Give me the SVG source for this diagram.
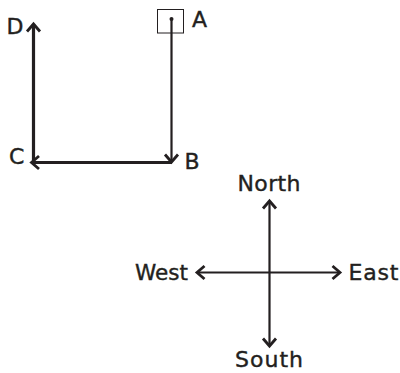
<svg xmlns="http://www.w3.org/2000/svg" width="400" height="373" viewBox="0 0 400 373">
<style>
text{font-family:"DejaVu Sans","Liberation Sans",Arial,sans-serif;font-size:22px;fill:#231f20;stroke:#231f20;stroke-width:0.4}
.thick{stroke:#231f20;stroke-width:3.2;fill:none}
.thin{stroke:#231f20;stroke-width:2.2;fill:none}
</style>
<defs>
<marker id="ah" markerUnits="userSpaceOnUse" markerWidth="20" markerHeight="20" viewBox="-10 -10 20 20" refX="0" refY="0" orient="auto-start-reverse" overflow="visible">
<path d="M-7.5,-6.5 L0,0 L-7.5,6.5" fill="none" stroke="#231f20" stroke-width="2.8" stroke-linejoin="miter"/>
</marker>
</defs>
<rect width="400" height="373" fill="#ffffff"/>
<g id="connectors">
<path class="thin" d="M171.5 19 V162" marker-end="url(#ah)"/>
<path class="thick" d="M172 162.5 H31.5" marker-end="url(#ah)"/>
<path class="thick" d="M33.5 162.5 V24" marker-end="url(#ah)"/>
<path class="thin" d="M269.5 201 V346" marker-start="url(#ah)" marker-end="url(#ah)"/>
<path class="thin" d="M197 272.5 H340" marker-start="url(#ah)" marker-end="url(#ah)"/>
</g>
<g id="A">
<rect x="157.5" y="9.5" width="26" height="23.5" fill="none" stroke="#231f20" stroke-width="1"/>
<circle cx="171.5" cy="19" r="2" fill="#231f20"/>
<text x="192" y="27">A</text>
</g>
<g id="B"><text x="184.5" y="168.5">B</text></g>
<g id="C"><text x="9" y="163.5">C</text></g>
<g id="D"><text x="6.5" y="33.5">D</text></g>
<g id="North"><text x="237.5" y="191" textLength="63" lengthAdjust="spacing">North</text></g>
<g id="West"><text x="135" y="280" textLength="53" lengthAdjust="spacingAndGlyphs">West</text></g>
<g id="East"><text x="348.5" y="280" textLength="50" lengthAdjust="spacing">East</text></g>
<g id="South"><text x="235" y="366.5" textLength="68" lengthAdjust="spacing">South</text></g>
</svg>
